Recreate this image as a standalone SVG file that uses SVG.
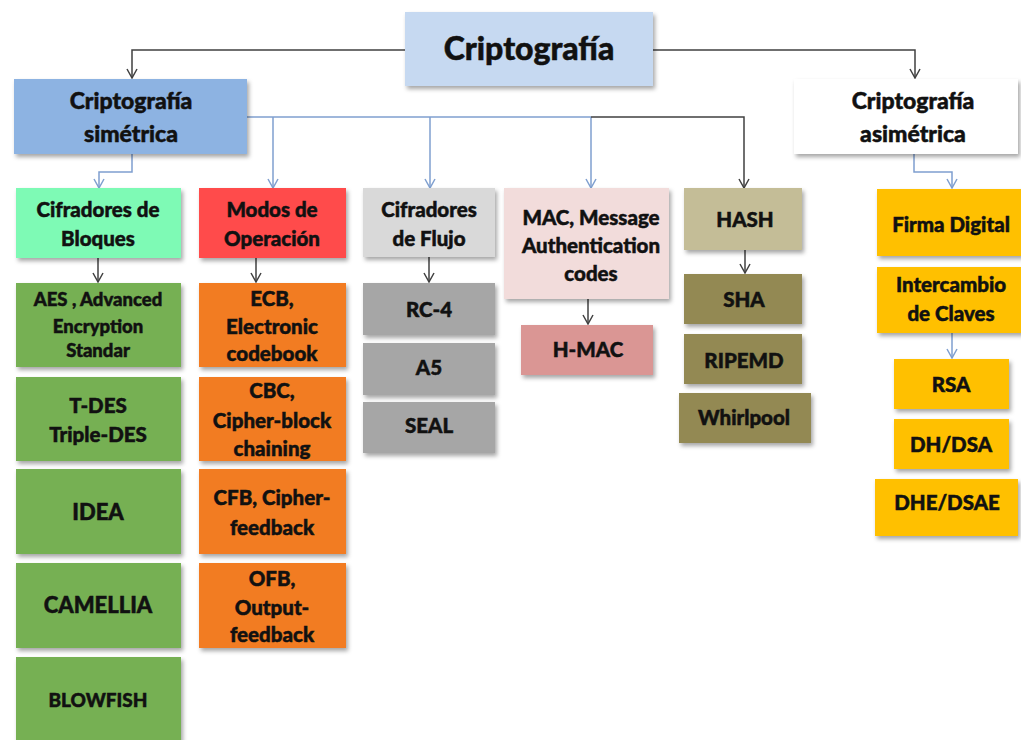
<svg xmlns="http://www.w3.org/2000/svg" width="1021" height="740" viewBox="0 0 1021 740">
<defs>
<filter id="sh" x="-10%" y="-10%" width="130%" height="140%">
<feDropShadow dx="2" dy="3" stdDeviation="2" flood-color="#000" flood-opacity="0.35"/>
</filter>
<marker id="ad" markerUnits="userSpaceOnUse" viewBox="-11 -7 13 14" markerWidth="13" markerHeight="14" refX="0" refY="0" orient="auto">
<path d="M-9,-5 L0,0 L-9,5" fill="none" stroke="#404040" stroke-width="1.5"/>
</marker>
<marker id="ab" markerUnits="userSpaceOnUse" viewBox="-11 -7 13 14" markerWidth="13" markerHeight="14" refX="0" refY="0" orient="auto">
<path d="M-9,-5 L0,0 L-9,5" fill="none" stroke="#7f9fcf" stroke-width="1.5"/>
</marker>
<style>
.box{filter:url(#sh);}
text{font-family:Lato,"Open Sans","Liberation Sans",sans-serif;font-weight:900;fill:#111;stroke:#111;stroke-width:0.5;text-anchor:middle;}
.t30{font-size:32px;}
.t22{font-size:23px;}
.t20{font-size:20.5px;}
.t19{font-size:19px;}
.t18{font-size:18.5px;}
.tb{font-size:22px;}
.dk{fill:none;stroke:#404040;stroke-width:1.5;marker-end:url(#ad);}
.bl{fill:none;stroke:#7f9fcf;stroke-width:1.5;marker-end:url(#ab);}
.bln{fill:none;stroke:#7f9fcf;stroke-width:1.5;}
</style>
</defs>
<rect width="1021" height="740" fill="#fff"/>

<g id="connectors">
<path class="dk" d="M405,50 H132 V78"/>
<path class="dk" d="M653,50 H915 V78"/>
<path class="bln" d="M247,117 H591"/>
<path class="bl" d="M273,117 V188"/>
<path class="bl" d="M430,117 V188"/>
<path class="bl" d="M591,117 V188"/>
<path class="dk" d="M591,117 H744 V188"/>
<path class="bl" d="M132,154 V172 H99 V188"/>
<path class="bl" d="M914,154 V172 H952 V188"/>
<path class="dk" d="M98,258 V282"/>
<path class="dk" d="M256,258 V282"/>
<path class="dk" d="M429,257 V282"/>
<path class="dk" d="M588,299 V324"/>
<path class="dk" d="M745,250 V273"/>
<path class="bl" d="M952,333 V358"/>
</g>

<g id="root"><rect class="box" x="405" y="12" width="248" height="74" fill="#c6d9f1"/><text class="t30" x="529" y="60">Criptografía</text></g>
<g id="simetrica"><rect class="box" x="14" y="79" width="233" height="75" fill="#8db3e2"/><text class="t22" x="131" y="109">Criptografía</text><text class="t22" x="131" y="142">simétrica</text></g>
<g id="asimetrica"><rect class="box" x="794" y="79" width="224" height="75" fill="#fff"/><text class="t22" x="913" y="109">Criptografía</text><text class="t22" x="913" y="142">asimétrica</text></g>

<g id="bloques"><rect class="box" x="16" y="188" width="165" height="70" fill="#7efab5"/><text class="t20" x="98" y="217">Cifradores de</text><text class="t20" x="98" y="246">Bloques</text></g>
<g id="modos"><rect class="box" x="199" y="188" width="147" height="70" fill="#ff4b4b"/><text class="t20" x="272" y="217">Modos de</text><text class="t20" x="272" y="246">Operación</text></g>
<g id="flujo"><rect class="box" x="363" y="188" width="132" height="69" fill="#d9d9d9"/><text class="t20" x="429" y="217">Cifradores</text><text class="t20" x="429" y="246">de Flujo</text></g>
<g id="mac"><rect class="box" x="504" y="188" width="165" height="111" fill="#f2dcdb"/><text class="t20" x="591" y="225">MAC, Message</text><text class="t20" x="591" y="253">Authentication</text><text class="t20" x="591" y="281">codes</text></g>
<g id="hash"><rect class="box" x="684" y="188" width="118" height="62" fill="#c4bd97"/><text class="t20" x="745" y="227">HASH</text></g>

<g id="aes"><rect class="box" x="16" y="283" width="165" height="84" fill="#76b052"/><text class="t18" x="98" y="306">AES , Advanced</text><text class="t18" x="98" y="333">Encryption</text><text class="t18" x="98" y="357">Standar</text></g>
<g id="tdes"><rect class="box" x="16" y="377" width="165" height="84" fill="#76b052"/><text class="t20" x="98" y="413">T-DES</text><text class="t20" x="98" y="442">Triple-DES</text></g>
<g id="idea"><rect class="box" x="16" y="469" width="165" height="85" fill="#76b052"/><text class="tb" x="98" y="520">IDEA</text></g>
<g id="camellia"><rect class="box" x="16" y="563" width="165" height="85" fill="#76b052"/><text class="tb" x="98" y="613">CAMELLIA</text></g>
<g id="blowfish"><rect class="box" x="16" y="657" width="165" height="86" fill="#76b052"/><text class="t19" x="98" y="707">BLOWFISH</text></g>

<g id="ecb"><rect class="box" x="199" y="283" width="147" height="84" fill="#f27b21"/><text class="t20" x="272" y="306">ECB,</text><text class="t20" x="272" y="334">Electronic</text><text class="t20" x="272" y="361">codebook</text></g>
<g id="cbc"><rect class="box" x="199" y="377" width="147" height="84" fill="#f27b21"/><text class="t20" x="272" y="398">CBC,</text><text class="t20" x="272" y="428">Cipher-block</text><text class="t20" x="272" y="456">chaining</text></g>
<g id="cfb"><rect class="box" x="199" y="469" width="147" height="85" fill="#f27b21"/><text class="t20" x="272" y="505">CFB,  Cipher-</text><text class="t20" x="272" y="535">feedback</text></g>
<g id="ofb"><rect class="box" x="199" y="563" width="147" height="85" fill="#f27b21"/><text class="t20" x="272" y="586">OFB,</text><text class="t20" x="272" y="615">Output-</text><text class="t20" x="272" y="642">feedback</text></g>

<g id="rc4"><rect class="box" x="363" y="283" width="132" height="52" fill="#a6a6a6"/><text class="t20" x="429" y="317">RC-4</text></g>
<g id="a5"><rect class="box" x="363" y="343" width="132" height="52" fill="#a6a6a6"/><text class="t20" x="429" y="375">A5</text></g>
<g id="seal"><rect class="box" x="363" y="402" width="132" height="51" fill="#a6a6a6"/><text class="t20" x="429" y="433">SEAL</text></g>

<g id="hmac"><rect class="box" x="521" y="325" width="132" height="50" fill="#da9694"/><text class="t20" x="588" y="357">H-MAC</text></g>

<g id="sha"><rect class="box" x="684" y="274" width="118" height="50" fill="#938953"/><text class="t20" x="744" y="307">SHA</text></g>
<g id="ripemd"><rect class="box" x="684" y="334" width="118" height="50" fill="#938953"/><text class="t20" x="744" y="368">RIPEMD</text></g>
<g id="whirlpool"><rect class="box" x="679" y="393" width="132" height="50" fill="#938953"/><text class="t20" x="744" y="425">Whirlpool</text></g>

<g id="firma"><rect class="box" x="877" y="189" width="146" height="67" fill="#ffc000"/><text class="t20" x="951" y="232">Firma Digital</text></g>
<g id="intercambio"><rect class="box" x="877" y="267" width="146" height="66" fill="#ffc000"/><text class="t20" x="951" y="292">Intercambio</text><text class="t20" x="951" y="321">de Claves</text></g>
<g id="rsa"><rect class="box" x="894" y="359" width="115" height="50" fill="#ffc000"/><text class="t20" x="951" y="392">RSA</text></g>
<g id="dhdsa"><rect class="box" x="894" y="419" width="115" height="50" fill="#ffc000"/><text class="t20" x="951" y="452">DH/DSA</text></g>
<g id="dhe"><rect class="box" x="875" y="479" width="143" height="57" fill="#ffc000"/><text class="t20" x="947" y="510">DHE/DSAE</text></g>
</svg>
